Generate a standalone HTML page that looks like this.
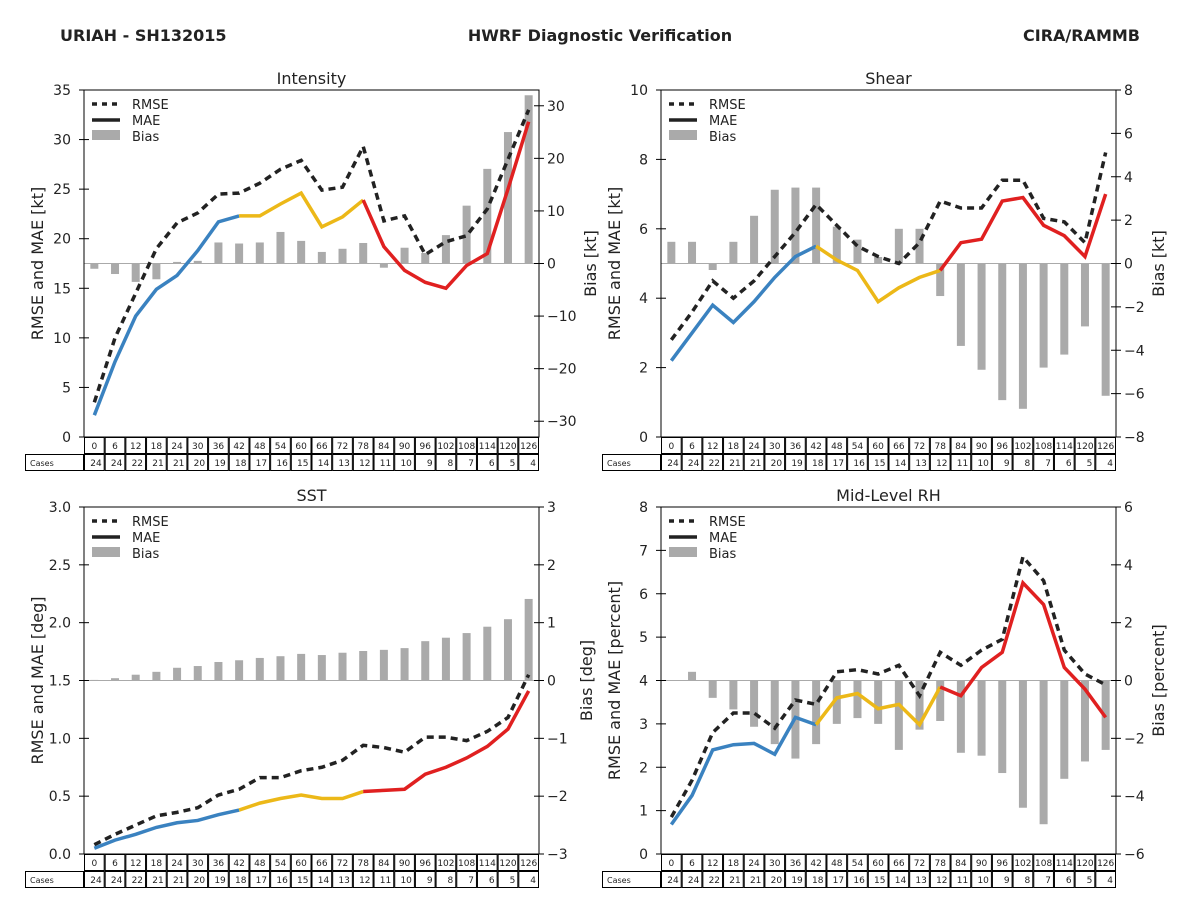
<!DOCTYPE html>
<html><head><meta charset="utf-8"><style>
body{margin:0;background:#fff;}
svg text{font-family:"DejaVu Sans","Liberation Sans",sans-serif;}
</style></head><body>
<svg id="s" width="1200" height="900" xmlns="http://www.w3.org/2000/svg">
<text x="60" y="41" font-size="16" font-weight="bold" fill="#222">URIAH - SH132015</text>
<text x="600" y="41" font-size="16" font-weight="bold" fill="#222" text-anchor="middle">HWRF Diagnostic Verification</text>
<text x="1140" y="41" font-size="16" font-weight="bold" fill="#222" text-anchor="end">CIRA/RAMMB</text>
</svg>
<script>
const hours=[0,6,12,18,24,30,36,42,48,54,60,66,72,78,84,90,96,102,108,114,120,126];
const cases=[24,24,22,21,21,20,19,18,17,16,15,14,13,12,11,10,9,8,7,6,5,4];
const intRmse=[3.5,10,14.5,19,21.6,22.6,24.5,24.6,25.6,27,27.9,24.9,25.2,29.3,21.8,22.3,18.4,19.7,20.3,23,28,33];
const intMae=[2.2,7.6,12.2,14.9,16.3,18.8,21.7,22.3,22.3,23.5,24.6,21.2,22.2,23.9,19.2,16.8,15.6,15,17.3,18.5,25,31.8];
const intBias=[-1,-2,-3.5,-3,0.3,0.5,4,3.8,4,6,4.3,2.2,2.8,3.9,-0.8,3,2,5.4,11,18,25,32];
const shRmse=[2.8,3.6,4.5,4.0,4.5,5.2,5.9,6.7,6.1,5.5,5.2,5.0,5.6,6.8,6.6,6.6,7.4,7.4,6.3,6.2,5.6,8.2];
const shMae=[2.2,3.0,3.8,3.3,3.9,4.6,5.2,5.5,5.1,4.8,3.9,4.3,4.6,4.8,5.6,5.7,6.8,6.9,6.1,5.8,5.2,7.0];
const shBias=[1.0,1.0,-0.3,1.0,2.2,3.4,3.5,3.5,1.7,1.1,0.3,1.6,1.6,-1.5,-3.8,-4.9,-6.3,-6.7,-4.8,-4.2,-2.9,-6.1];
const sstRmse=[0.08,0.17,0.25,0.33,0.36,0.40,0.51,0.56,0.66,0.66,0.72,0.75,0.81,0.94,0.92,0.88,1.01,1.01,0.98,1.06,1.18,1.55];
const sstMae=[0.05,0.12,0.17,0.23,0.27,0.29,0.34,0.38,0.44,0.48,0.51,0.48,0.48,0.54,0.55,0.56,0.69,0.75,0.83,0.93,1.08,1.41];
const sstBias=[0.01,0.04,0.10,0.15,0.22,0.25,0.32,0.35,0.39,0.42,0.46,0.44,0.48,0.51,0.53,0.56,0.68,0.74,0.82,0.93,1.06,1.41];
const rhRmse=[0.85,1.7,2.8,3.25,3.25,2.9,3.55,3.45,4.2,4.25,4.15,4.35,3.65,4.65,4.35,4.7,4.95,6.85,6.3,4.7,4.15,3.9];
const rhMae=[0.68,1.35,2.4,2.52,2.55,2.3,3.15,2.98,3.6,3.7,3.35,3.45,2.98,3.85,3.65,4.3,4.65,6.25,5.75,4.3,3.8,3.15];
const rhBias=[0,0.3,-0.6,-1.0,-1.6,-2.2,-2.7,-2.2,-1.5,-1.3,-1.5,-2.4,-1.7,-1.4,-2.5,-2.6,-3.2,-4.4,-4.97,-3.4,-2.8,-2.4];

const NS="http://www.w3.org/2000/svg";
const svg=document.getElementById('s');
function mk(tag,attrs,parent,txt){const e=document.createElementNS(NS,tag);for(const k in attrs)e.setAttribute(k,attrs[k]);if(txt!==undefined)e.textContent=txt;(parent||svg).appendChild(e);return e;}
function fmt(v,d){const s=v.toFixed(d);return v<0?'\u2212'+s.slice(1):s;}

function panel(p){
  const g=mk('g',{});
  
  
  const x0=p.x,x1=p.x+455,y0=p.y,y1=p.y+347,cw=455/22;
  const xs=i=>x0+cw*(i+0.5);
  const yl=v=>y1-(v-p.lmin)/(p.lmax-p.lmin)*347;
  const yr=v=>y1-(v-p.rmin)/(p.rmax-p.rmin)*347;
  p.bias.forEach((b,i)=>{
    const a=yr(0),bb=yr(b);
    const r=mk('rect',{x:xs(i)-4,y:Math.min(a,bb),width:8,height:Math.max(Math.abs(bb-a),0.5),fill:'#aaaaaa'},g);
    
    
  });
  mk('line',{x1:x0,x2:x1,y1:yr(0),y2:yr(0),stroke:'#aaa','stroke-width':1},g);
  const rp=p.rmse.map((v,i)=>xs(i)+','+yl(v)).join(' ');
  const rl=mk('polyline',{points:rp,fill:'none',stroke:'#222','stroke-width':3.5,'stroke-dasharray':'7,5'},g);
  
  
  const segs=[[0,7,'#3a82c0','blue'],[7,13,'#ecb818','yellow'],[13,21,'#e02020','red']];
  segs.forEach(s=>{
    const pts=[];for(let i=s[0];i<=s[1];i++)pts.push(xs(i)+','+yl(p.mae[i]));
    const l=mk('polyline',{points:pts.join(' '),fill:'none',stroke:s[2],'stroke-width':3.5},g);
    
    
  });
  mk('rect',{x:x0,y:y0,width:455,height:347,fill:'none',stroke:'#000','stroke-width':1},g);
  for(let v=p.lmin;v<=p.lmax+1e-9;v+=p.lstep){
    const y=yl(v);
    mk('line',{x1:x0-5,x2:x0,y1:y,y2:y,stroke:'#000'},g);
    mk('line',{x1:x0,x2:x0+5,y1:y,y2:y,stroke:'#000'},g);
    mk('text',{x:x0-13,y:y+5,'font-size':14,'text-anchor':'end',fill:'#222'},g,v.toFixed(p.ld));
  }
  for(let v=Math.ceil(p.rmin/p.rstep-1e-9)*p.rstep;v<=p.rmax+1e-9;v+=p.rstep){
    const y=yr(v);
    mk('line',{x1:x1-5,x2:x1+5,y1:y,y2:y,stroke:'#000'},g);
    mk('text',{x:x1+8,y:y+5,'font-size':14,fill:'#222'},g,fmt(v,0));
  }
  const t=mk('text',{x:(x0+x1)/2,y:y0-6,'font-size':16,'text-anchor':'middle',fill:'#222'},g,p.title);
  
  
  const ly=(y0+y1)/2;
  const la=mk('text',{x:x0-41,y:ly,'font-size':16,'text-anchor':'middle',fill:'#222',transform:`rotate(-90 ${x0-41} ${ly})`},g,p.lab);
  
  
  const rx=x1+p.rlx;
  const ra=mk('text',{x:rx,y:ly,'font-size':16,'text-anchor':'middle',fill:'#222',transform:`rotate(-90 ${rx} ${ly})`},g,p.rlab);
  
  
  const lg=mk('g',{},g);
  
  
  mk('line',{x1:x0+8,x2:x0+36,y1:y0+14,y2:y0+14,stroke:'#222','stroke-width':3.5,'stroke-dasharray':'5,5'},lg);
  mk('line',{x1:x0+8,x2:x0+36,y1:y0+30,y2:y0+30,stroke:'#222','stroke-width':3.5},lg);
  mk('rect',{x:x0+8,y:y0+40,width:28,height:10,fill:'#aaa'},lg);
  ['RMSE','MAE','Bias'].forEach((s,i)=>mk('text',{x:x0+48,y:y0+19+i*16,'font-size':13,fill:'#222'},lg,s));
  const tb=mk('g',{},g);
  
  
  hours.forEach((h,i)=>{
    const cx=x0+cw*i;
    mk('rect',{x:cx+0.5,y:y1+0.5,width:cw-1,height:16,fill:'#fff',stroke:'#000','stroke-width':1},tb);
    mk('text',{x:cx+cw/2,y:y1+12,'font-size':9,'text-anchor':'middle',fill:'#222'},tb,h);
    mk('rect',{x:cx+0.5,y:y1+17.5,width:cw-1,height:16,fill:'#fff',stroke:'#000','stroke-width':1},tb);
    mk('text',{x:cx+cw-3,y:y1+29,'font-size':9,'text-anchor':'end',fill:'#222'},tb,cases[i]);
  });
  mk('rect',{x:x0-58.5,y:y1+17.5,width:58,height:16,fill:'#fff',stroke:'#000','stroke-width':1},tb);
  mk('text',{x:x0-54,y:y1+29,'font-size':8,fill:'#222'},tb,'Cases');
}
panel({key:'intensity',x:84,y:90,title:'Intensity',lmin:0,lmax:35,lstep:5,ld:0,rmin:-33,rmax:33,rstep:10,lab:'RMSE and MAE [kt]',rlab:'Bias [kt]',rlx:57,rmse:intRmse,mae:intMae,bias:intBias});
panel({key:'shear',x:661,y:90,title:'Shear',lmin:0,lmax:10,lstep:2,ld:0,rmin:-8,rmax:8,rstep:2,lab:'RMSE and MAE [kt]',rlab:'Bias [kt]',rlx:48,rmse:shRmse,mae:shMae,bias:shBias});
panel({key:'sst',x:84,y:507,title:'SST',lmin:0,lmax:3,lstep:0.5,ld:1,rmin:-3,rmax:3,rstep:1,lab:'RMSE and MAE [deg]',rlab:'Bias [deg]',rlx:53,rmse:sstRmse,mae:sstMae,bias:sstBias});
panel({key:'rh',x:661,y:507,title:'Mid-Level RH',lmin:0,lmax:8,lstep:1,ld:0,rmin:-6,rmax:6,rstep:2,lab:'RMSE and MAE [percent]',rlab:'Bias [percent]',rlx:48,rmse:rhRmse,mae:rhMae,bias:rhBias});
</script>
</body></html>
